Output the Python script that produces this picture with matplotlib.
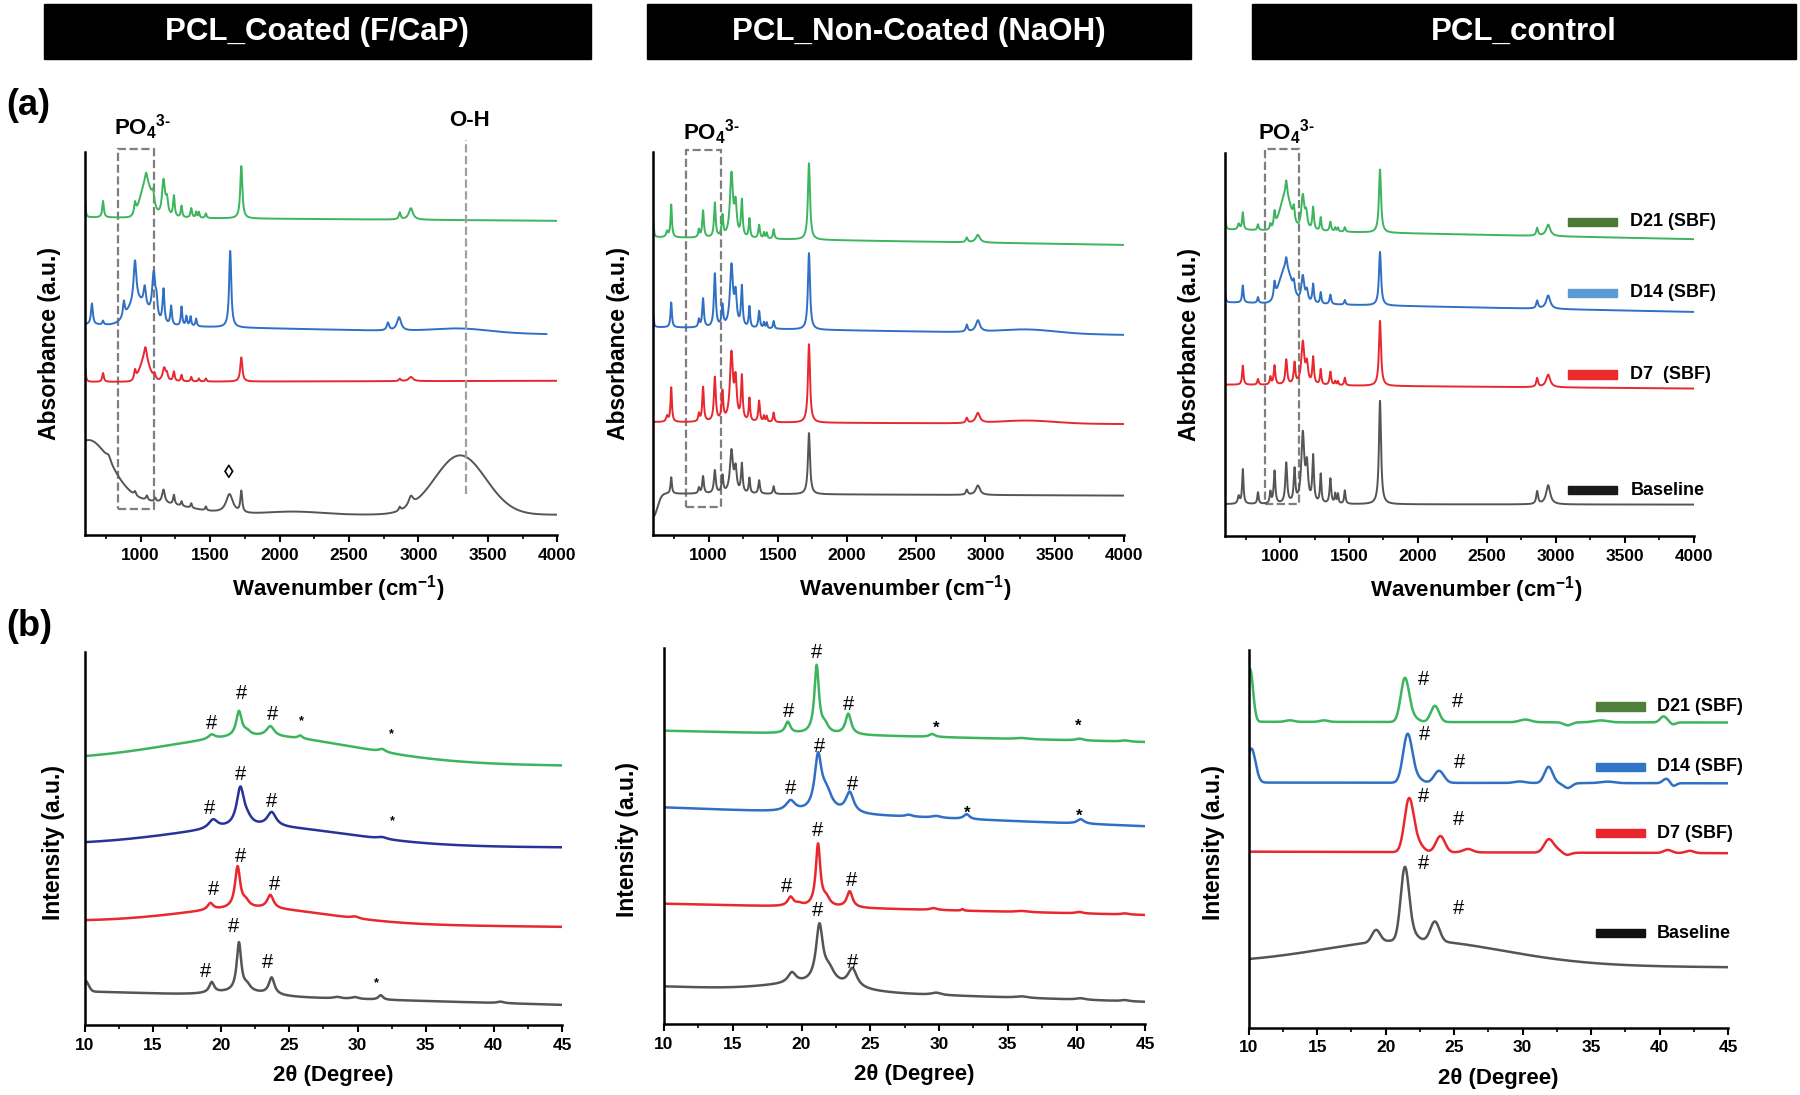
import numpy as np
import matplotlib
matplotlib.use("Agg")
import matplotlib.pyplot as plt
from matplotlib.patches import Rectangle
from matplotlib.ticker import MultipleLocator

plt.rcParams.update({"font.family": ["Liberation Sans", "DejaVu Sans"],
                     "font.weight": "bold",
                     "mathtext.fontset": "custom",
                     "mathtext.rm": "Liberation Sans:bold",
                     "mathtext.bf": "Liberation Sans:bold",
                     "axes.linewidth": 1.8})

# ---------------- data ----------------
# bands: (centre, height, width, shape) ; L = lorentzian (width = HWHM), G = gaussian (width = sigma)
# heights / levels are in % of the panel height (a.u.), level = (left end, right end)
HEADERS = ["PCL_Coated (F/CaP)", "PCL_Non-Coated (NaOH)", "PCL_control"]
SAMPLES = ["Baseline", "D7", "D14", "D21"]
LEGEND_A = ["Baseline", "D7  (SBF)", "D14 (SBF)", "D21 (SBF)"]
LEGEND_B = ["Baseline", "D7 (SBF)", "D14 (SBF)", "D21 (SBF)"]

# (a) FTIR -- PCL_Coated (F/CaP)
COAT_BL_LEVEL = (5.3, 5.3)
COAT_BL = [(620, 19, 170, "G"), (1100, 3, 250, "G"), (770, 1.5, 20, "L"), (960, 1, 8, "L"),
           (1045, 1.2, 8, "L"), (1105, 1, 8, "L"), (1165, 3.5, 12, "L"), (1240, 2.5, 7, "L"),
           (1295, 1.2, 6, "L"), (1365, 1.2, 6, "L"), (1470, 1, 6, "L"), (1640, 5, 30, "L"),
           (1725, 5.5, 8, "L"), (2100, 0.8, 200, "G"), (2865, 1, 8, "L"), (2945, 2.5, 20, "L"),
           (3300, 15.5, 185, "G")]
COAT_D7_LEVEL = (40.0, 40.3)
COAT_D7 = [(600, 4, 6, "L"), (730, 2.3, 7, "L"), (1030, 5.5, 35, "G"), (960, 2.5, 8, "L"),
           (1035, 3.5, 12, "L"), (1100, 1.5, 10, "L"), (1170, 3.5, 14, "L"), (1190, 1.5, 8, "L"),
           (1240, 2.5, 7, "L"), (1295, 1.7, 6, "L"), (1365, 1.2, 6, "L"), (1420, 0.8, 6, "L"),
           (1470, 0.8, 6, "L"), (1725, 6.3, 9, "L"), (2865, 0.6, 8, "L"), (2945, 1.1, 18, "L")]
COAT_D14_LEVEL = (55.0, 52.5)
COAT_D14_END = 3920
COAT_D14 = [(980, 6, 70, "G"), (650, 5.5, 8, "L"), (730, 1, 6, "L"), (880, 4, 8, "L"),
            (960, 11, 12, "L"), (1030, 5, 10, "L"), (1095, 12, 14, "L"), (1115, 4, 8, "L"),
            (1165, 9, 8, "L"), (1220, 5, 7, "L"), (1295, 5, 6, "L"), (1330, 2.5, 6, "L"),
            (1360, 2.5, 6, "L"), (1400, 2, 6, "L"), (1645, 20, 9, "L"), (2780, 2, 10, "L"),
            (2860, 3.5, 18, "L"), (3300, 1, 200, "G")]
COAT_D21_LEVEL = (83.0, 82.1)
COAT_D21 = [(600, 5, 5, "L"), (730, 4.3, 7, "L"), (1040, 9, 40, "G"), (960, 3, 8, "L"),
            (1040, 2.5, 10, "L"), (1090, 3, 10, "L"), (1165, 9.5, 13, "L"), (1190, 4, 10, "L"),
            (1240, 5.5, 7, "L"), (1295, 3, 6, "L"), (1365, 2.5, 7, "L"), (1400, 1.5, 5, "L"),
            (1420, 1.5, 5, "L"), (1470, 1.2, 6, "L"), (1725, 13.7, 9, "L"), (2865, 1.8, 8, "L"),
            (2945, 3, 18, "L")]

# (a) FTIR -- PCL_Non-Coated (NaOH)
NAOH_BL_LEVEL = (10.8, 10.3)
NAOH_BL = [(600, -6, 30, "G"), (730, 4.3, 6, "L"), (930, 1.5, 6, "L"), (960, 4.5, 7, "L"),
           (1045, 6, 8, "L"), (1100, 4.5, 7, "L"), (1165, 11, 13, "L"), (1195, 6, 10, "L"),
           (1240, 7.5, 7, "L"), (1295, 4, 6, "L"), (1365, 3.5, 7, "L"), (1470, 2, 6, "L"),
           (1725, 16, 9, "L"), (2865, 1.3, 8, "L"), (2945, 2.5, 18, "L")]
NAOH_D7_LEVEL = (29.5, 29.0)
NAOH_D7 = [(700, 1.5, 8, "L"), (730, 9, 6, "L"), (930, 2, 6, "L"), (960, 9, 7, "L"),
           (1045, 11.5, 8, "L"), (1100, 7.5, 7, "L"), (1165, 17.5, 13, "L"), (1195, 10, 10, "L"),
           (1240, 11.5, 7, "L"), (1295, 6, 6, "L"), (1365, 5.5, 7, "L"), (1400, 1.5, 5, "L"),
           (1420, 1.5, 5, "L"), (1470, 2.5, 6, "L"), (1725, 20.5, 9, "L"), (2865, 1.3, 8, "L"),
           (2945, 2.6, 18, "L"), (3300, 0.8, 200, "G")]
NAOH_D14_LEVEL = (54.3, 52.3)
NAOH_D14 = [(600, 3, 5, "L"), (730, 6.5, 6, "L"), (930, 2, 6, "L"), (960, 7.5, 7, "L"),
            (1045, 14, 8, "L"), (1100, 5.5, 7, "L"), (1165, 16, 13, "L"), (1195, 8, 10, "L"),
            (1240, 10.5, 7, "L"), (1295, 5.5, 6, "L"), (1365, 4.5, 7, "L"), (1400, 1.5, 5, "L"),
            (1420, 1.5, 5, "L"), (1470, 2, 6, "L"), (1725, 20, 9, "L"), (2865, 1.8, 8, "L"),
            (2945, 3, 18, "L"), (3300, 1, 200, "G")]
NAOH_D21_LEVEL = (77.8, 75.8)
NAOH_D21 = [(600, 4, 5, "L"), (700, 1.5, 8, "L"), (730, 8.5, 6, "L"), (930, 2, 6, "L"),
            (960, 7, 7, "L"), (1045, 9, 7, "L"), (1100, 5.5, 7, "L"), (1165, 16.5, 13, "L"),
            (1195, 8, 10, "L"), (1240, 9.5, 7, "L"), (1295, 5, 6, "L"), (1365, 3.5, 7, "L"),
            (1400, 1.5, 5, "L"), (1420, 1.5, 5, "L"), (1470, 2.5, 6, "L"), (1725, 20, 9, "L"),
            (2865, 1.2, 8, "L"), (2945, 2, 18, "L")]

# (a) FTIR -- PCL_control
CTRL_BL_LEVEL = (8.3, 8.2)
CTRL_BL = [(700, 2, 8, "L"), (730, 9, 6, "L"), (840, 3, 6, "L"), (930, 3, 6, "L"),
           (960, 8.5, 7, "L"), (1045, 10.5, 8, "L"), (1105, 8.5, 7, "L"), (1165, 18, 13, "L"),
           (1195, 9, 10, "L"), (1240, 12, 7, "L"), (1295, 7.5, 6, "L"), (1365, 6.5, 7, "L"),
           (1400, 2.5, 5, "L"), (1420, 2.5, 5, "L"), (1470, 3.5, 6, "L"), (1725, 27, 9, "L"),
           (2865, 3.3, 8, "L"), (2945, 5, 18, "L")]
CTRL_D7_LEVEL = (39.5, 38.5)
CTRL_D7 = [(730, 5, 6, "L"), (840, 1.5, 6, "L"), (930, 2, 6, "L"), (960, 5, 7, "L"),
           (1045, 6.5, 8, "L"), (1105, 5.5, 7, "L"), (1165, 11, 13, "L"), (1195, 5, 10, "L"),
           (1240, 7, 7, "L"), (1295, 4, 6, "L"), (1365, 3.5, 7, "L"), (1400, 1, 5, "L"),
           (1420, 1, 5, "L"), (1470, 2, 6, "L"), (1725, 17, 9, "L"), (2865, 2.3, 8, "L"),
           (2945, 3.3, 18, "L")]
CTRL_D14_LEVEL = (61.0, 58.5)
CTRL_D14 = [(1040, 9, 45, "G"), (600, 3, 5, "L"), (730, 4.5, 6, "L"), (840, 1.5, 6, "L"),
            (960, 4, 7, "L"), (1045, 3, 8, "L"), (1100, 2.5, 7, "L"), (1165, 7, 13, "L"),
            (1195, 3, 10, "L"), (1240, 5, 7, "L"), (1295, 3, 6, "L"), (1365, 2.5, 7, "L"),
            (1470, 1.2, 6, "L"), (1725, 14, 9, "L"), (2865, 2, 8, "L"), (2945, 3.5, 18, "L")]
CTRL_D21_LEVEL = (80.0, 77.5)
CTRL_D21 = [(1040, 9, 40, "G"), (600, 5, 5, "L"), (700, 1.5, 8, "L"), (730, 4.5, 6, "L"),
            (840, 1.5, 6, "L"), (930, 1.5, 6, "L"), (960, 4, 7, "L"), (1045, 4, 8, "L"),
            (1100, 3.5, 7, "L"), (1165, 9, 13, "L"), (1190, 4, 10, "L"), (1240, 6, 7, "L"),
            (1295, 3.5, 6, "L"), (1365, 2.5, 7, "L"), (1400, 1, 5, "L"), (1420, 1, 5, "L"),
            (1470, 1.2, 6, "L"), (1725, 16.5, 9, "L"), (2865, 2, 8, "L"), (2945, 3, 18, "L")]

# (b) XRD -- PCL_Coated (F/CaP)
XCOAT_BL_LEVEL = (9.0, 5.4)
XCOAT_BL = [(10, 3, 0.25, "G"), (21.5, 1, 2, "G"), (19.3, 2.8, 0.22, "L"), (21.3, 13, 0.2, "L"),
            (21.9, 1.5, 0.3, "L"), (23.7, 4.5, 0.25, "L"), (28.5, 0.4, 0.3, "L"),
            (29.8, 0.5, 0.3, "L"), (31.7, 1.2, 0.2, "L"), (40.5, 0.4, 0.3, "L")]
XCOAT_D7_LEVEL = (27.8, 26.3)
XCOAT_D7 = [(22.5, 4, 5.5, "G"), (19.2, 1.8, 0.25, "L"), (21.2, 11, 0.23, "L"),
            (21.8, 1.5, 0.3, "L"), (23.6, 3.6, 0.28, "L"), (29.8, 0.5, 0.3, "L")]
XCOAT_D14_LEVEL = (48.3, 47.6)
XCOAT_D14 = [(23, 5, 6.5, "G"), (19.4, 2.4, 0.4, "L"), (21.4, 10.2, 0.33, "L"),
             (21.9, 1.5, 0.4, "L"), (23.7, 3.8, 0.4, "L"), (31.8, 0.5, 0.4, "L")]
XCOAT_D21_LEVEL = (70.8, 69.5)
XCOAT_D21 = [(23, 7, 7, "G"), (19.3, 1.2, 0.3, "L"), (21.3, 6.7, 0.25, "L"),
             (21.9, 1, 0.3, "L"), (23.6, 2.7, 0.35, "L"), (25.8, 0.8, 0.2, "L"),
             (31.8, 0.8, 0.3, "L")]

# (b) XRD -- PCL_Non-Coated (NaOH)
XNAOH_BL_LEVEL = (10.0, 5.9)
XNAOH_BL = [(20.5, 1.8, 3, "G"), (19.3, 2.8, 0.35, "L"), (21.3, 15, 0.3, "L"),
            (22.0, 3.5, 0.5, "L"), (23.7, 5, 0.4, "L"), (29.8, 0.6, 0.4, "L"),
            (36, 0.4, 0.5, "L"), (40.3, 0.4, 0.4, "L"), (43.5, 0.3, 0.3, "L")]
XNAOH_D7_LEVEL = (32.0, 29.0)
XNAOH_D7 = [(19.2, 2.4, 0.25, "L"), (19.8, 0.6, 0.3, "L"), (21.2, 16.5, 0.2, "L"),
            (21.8, 2, 0.3, "L"), (23.5, 4.3, 0.25, "L"), (29.6, 0.5, 0.3, "L"),
            (31.7, 0.4, 0.1, "L"), (36, 0.3, 0.5, "L"), (40.2, 0.4, 0.3, "L"),
            (43.5, 0.3, 0.3, "L")]
XNAOH_D14_LEVEL = (57.6, 52.6)
XNAOH_D14 = [(19.2, 2.8, 0.4, "L"), (21.2, 14, 0.3, "L"), (21.8, 5, 0.5, "L"),
             (23.5, 5.5, 0.35, "L"), (27.8, 0.5, 0.3, "L"), (29.8, 0.5, 0.4, "L"),
             (32.0, 1.3, 0.25, "L"), (40.3, 1.2, 0.3, "L")]
XNAOH_D21_LEVEL = (78.0, 75.0)
XNAOH_D21 = [(19.0, 3, 0.22, "L"), (21.1, 18, 0.2, "L"), (21.7, 2, 0.3, "L"),
             (23.4, 5.5, 0.25, "L"), (29.5, 0.8, 0.25, "L"), (36, 0.3, 0.5, "L"),
             (40.2, 0.5, 0.3, "L"), (43.5, 0.3, 0.3, "L")]

# (b) XRD -- PCL_control
XCTRL_BL_LEVEL = (17.0, 16.0)
XCTRL_BL = [(22, 6.5, 6.5, "G"), (19.3, 3.2, 0.3, "G"), (21.4, 18.5, 0.3, "G"),
            (21.9, 2, 0.4, "G"), (23.6, 5.2, 0.33, "G")]
XCTRL_D7_LEVEL = (46.6, 46.2)
XCTRL_D7 = [(21.7, 13.5, 0.33, "G"), (22.3, 2.5, 0.4, "G"), (24.0, 4.3, 0.33, "G"),
            (26.0, 0.9, 0.35, "G"), (31.9, 3.3, 0.33, "G"), (32.5, 0.8, 0.4, "G"),
            (33.2, -0.7, 0.3, "G"), (40.6, 0.8, 0.3, "G"), (42.2, 0.6, 0.3, "G")]
XCTRL_D14_LEVEL = (64.9, 64.7)
XCTRL_D14 = [(10.2, 9, 0.3, "G"), (21.6, 12.5, 0.33, "G"), (22.2, 1.5, 0.4, "G"),
             (23.9, 3.2, 0.35, "G"), (29.8, 0.4, 0.4, "G"), (31.9, 4.3, 0.3, "G"),
             (33.3, -1.3, 0.3, "G"), (36.2, 0.4, 0.5, "G"), (40.5, 1.2, 0.25, "G"),
             (41.0, -0.8, 0.2, "G")]
XCTRL_D21_LEVEL = (81.0, 80.8)
XCTRL_D21 = [(10.1, 14, 0.22, "G"), (13.0, 0.4, 0.3, "G"), (15.5, 0.4, 0.3, "G"),
             (21.4, 11, 0.3, "G"), (21.9, 1.5, 0.4, "G"), (23.6, 4.3, 0.3, "G"),
             (30.2, 0.7, 0.4, "G"), (33.3, -0.8, 0.3, "G"), (35.7, 0.5, 0.5, "G"),
             (40.3, 1.6, 0.25, "G"), (41.0, -0.5, 0.2, "G")]

# peak markers on the XRD panels: (2theta, level, symbol)
MARKS_COAT = [(19.28, 80.8, "#"), (21.51, 88.8, "#"), (23.77, 83.2, "#"), (25.86, 81.3, "*"),
              (32.47, 77.9, "*"), (19.13, 58.0, "#"), (21.39, 67.0, "#"), (23.66, 59.8, "#"),
              (32.53, 54.5, "*"), (19.42, 36.2, "#"), (21.39, 45.1, "#"), (23.92, 37.7, "#"),
              (18.84, 14.3, "#"), (20.93, 26.3, "#"), (23.42, 16.7, "#"), (31.37, 11.2, "*")]
MARKS_NAOH = [(19.04, 83.1, "#"), (21.07, 98.7, "#"), (23.41, 84.9, "#"), (29.76, 78.7, "*"),
              (40.10, 79.1, "*"), (19.18, 62.7, "#"), (21.32, 73.8, "#"), (23.72, 63.8, "#"),
              (32.06, 56.1, "*"), (40.19, 55.2, "*"), (18.90, 36.6, "#"), (21.13, 51.6, "#"),
              (23.63, 38.1, "#"), (21.13, 30.3, "#"), (23.72, 16.3, "#")]
MARKS_CTRL = [(22.74, 92.1, "#"), (25.22, 86.3, "#"), (22.85, 77.5, "#"), (25.36, 70.2, "#"),
              (22.79, 61.3, "#"), (25.31, 55.0, "#"), (22.79, 43.5, "#"), (25.31, 31.6, "#")]

LINE_COLORS = ["#555555", "#e8282e", "#2f6fc4", "#3cb55e"]
XRD_COAT_COLORS = ["#555555", "#e8282e", "#28339a", "#3cb55e"]
LEGEND_A_COLORS = ["#1a1a1a", "#ee2a2a", "#5b9bd5", "#4a7a35"]
LEGEND_B_COLORS = ["#111111", "#e8262b", "#2f75c8", "#4f7f3a"]


def spectrum(x, level, bands):
    y = np.interp(x, [x[0], x[-1]], level)
    for c, h, w, shape in bands:
        if shape == "G":
            y = y + h * np.exp(-0.5 * ((x - c) / w) ** 2)
        else:
            y = y + h / (1 + ((x - c) / w) ** 2)
    return y


def style(ax, xlim, major, minor, xlabel, ylabel, ycoords, xcoords):
    ax.set_xlim(*xlim); ax.set_ylim(0, 100)
    for s in ("top", "right"):
        ax.spines[s].set_visible(False)
    ax.set_yticks([])
    ax.xaxis.set_major_locator(MultipleLocator(major))
    ax.xaxis.set_minor_locator(MultipleLocator(minor))
    ax.tick_params(axis="x", which="major", length=5, width=1.5, labelsize=12.5, pad=4)
    ax.tick_params(axis="x", which="minor", length=3, width=1.2)
    for t in ax.get_xticklabels():
        t.set_fontweight("bold")
    ax.set_xlabel(xlabel, fontsize=16, fontweight="bold")
    ax.set_ylabel(ylabel, fontsize=16.5, fontweight="bold")
    ax.yaxis.set_label_coords(*ycoords)
    ax.xaxis.set_label_coords(*xcoords)


def legend(ax, labels, colors, ys, x0, x1, xt, size):
    for lab, col, yy in zip(labels, colors, ys):
        ax.add_patch(Rectangle((x0, yy - 0.011), x1 - x0, 0.022, transform=ax.transAxes,
                               color=col, clip_on=False))
        ax.text(xt, yy, lab, transform=ax.transAxes, fontsize=size, fontweight="bold",
                va="center", ha="left")


fig = plt.figure(figsize=(18, 10.95), dpi=100)

# header boxes
for (x0, x1), title in zip([(0.0242, 0.3283), (0.3593, 0.6619), (0.6954, 0.9978)], HEADERS):
    fig.patches.append(Rectangle((x0, 0.9458), x1 - x0, 0.0507, transform=fig.transFigure,
                                 color="black", zorder=0))
    fig.text((x0 + x1) / 2, 0.971, title, color="white", fontsize=22.5, fontweight="bold",
             ha="center", va="center")
fig.text(0.0155, 0.904, "(a)", fontsize=26, fontweight="bold", ha="center", va="center")
fig.text(0.0165, 0.428, "(b)", fontsize=26, fontweight="bold", ha="center", va="center")

WN = np.linspace(600, 4000, 3401)
TT = np.linspace(10, 45, 3501)
WN_LABEL = "Wavenumber (cm$^{-1}$)"
TT_LABEL = "2θ (Degree)"

# ---------- row (a): FTIR ----------
ax_a = [fig.add_axes([0.0472, 0.5114, 0.2625, 0.3495]),
        fig.add_axes([0.3629, 0.5114, 0.2615, 0.3495]),
        fig.add_axes([0.6805, 0.5105, 0.2604, 0.3498])]
ftir_sets = [
    [(COAT_BL_LEVEL, COAT_BL), (COAT_D7_LEVEL, COAT_D7), (COAT_D14_LEVEL, COAT_D14),
     (COAT_D21_LEVEL, COAT_D21)],
    [(NAOH_BL_LEVEL, NAOH_BL), (NAOH_D7_LEVEL, NAOH_D7), (NAOH_D14_LEVEL, NAOH_D14),
     (NAOH_D21_LEVEL, NAOH_D21)],
    [(CTRL_BL_LEVEL, CTRL_BL), (CTRL_D7_LEVEL, CTRL_D7), (CTRL_D14_LEVEL, CTRL_D14),
     (CTRL_D21_LEVEL, CTRL_D21)],
]
po4_boxes = [(840, 1100, 6.8, 100.8), (840, 1090, 7.3, 100.7), (890, 1140, 8.3, 101.0)]
po4_text = [(1014, 106.5), (1019, 105.3), (1050, 105.3)]
for i, ax in enumerate(ax_a):
    for j, (level, bands) in enumerate(ftir_sets[i]):
        x = WN
        if i == 0 and SAMPLES[j] == "D14":
            x = WN[WN <= COAT_D14_END]
        ax.plot(x, spectrum(x, level, bands), color=LINE_COLORS[j], lw=1.4)
    style(ax, (600, 4000), 500, 250, WN_LABEL, "Absorbance (a.u.)", (-0.05, 0.5), (0.535, -0.10))
    ax.set_xticks([1000, 1500, 2000, 2500, 3000, 3500, 4000])
    ax.xaxis.set_minor_locator(MultipleLocator(250))
    x0, x1, y0, y1 = po4_boxes[i]
    ax.add_patch(Rectangle((x0, y0), x1 - x0, y1 - y0, fill=False, ls="--", lw=1.6,
                           ec="#7f7f7f", clip_on=False))
    ax.text(*po4_text[i], "PO$_4$$^{3\u2010}$", fontsize=16, fontweight="bold",
            ha="center", va="center")

ax_a[0].plot([3340, 3340], [10.7, 103.2], ls="--", lw=1.6, color="#a0a0a0", clip_on=False)
ax_a[0].text(3370, 108.2, "O-H", fontsize=16, fontweight="bold", ha="center", va="center")
ax_a[0].text(1636, 16.2, "\u25ca", fontsize=14, fontweight="bold", ha="center", va="center")
legend(ax_a[2], LEGEND_A, LEGEND_A_COLORS, [0.12, 0.422, 0.635, 0.82], 0.733, 0.837, 0.865, 13)

# ---------- row (b): XRD ----------
ax_b = [fig.add_axes([0.0472, 0.0639, 0.2650, 0.3409]),
        fig.add_axes([0.3689, 0.0648, 0.2674, 0.3434]),
        fig.add_axes([0.6937, 0.0615, 0.2663, 0.3449])]
xrd_sets = [
    [(XCOAT_BL_LEVEL, XCOAT_BL), (XCOAT_D7_LEVEL, XCOAT_D7), (XCOAT_D14_LEVEL, XCOAT_D14),
     (XCOAT_D21_LEVEL, XCOAT_D21)],
    [(XNAOH_BL_LEVEL, XNAOH_BL), (XNAOH_D7_LEVEL, XNAOH_D7), (XNAOH_D14_LEVEL, XNAOH_D14),
     (XNAOH_D21_LEVEL, XNAOH_D21)],
    [(XCTRL_BL_LEVEL, XCTRL_BL), (XCTRL_D7_LEVEL, XCTRL_D7), (XCTRL_D14_LEVEL, XCTRL_D14),
     (XCTRL_D21_LEVEL, XCTRL_D21)],
]
marks = [MARKS_COAT, MARKS_NAOH, MARKS_CTRL]
ylab_x = [-0.042, -0.052, -0.049]
star_size = [9, 12, 12]
for i, ax in enumerate(ax_b):
    cols = XRD_COAT_COLORS if i == 0 else LINE_COLORS
    for j, (level, bands) in enumerate(xrd_sets[i]):
        ax.plot(TT, spectrum(TT, level, bands), color=cols[j], lw=1.8)
    style(ax, (10, 45), 5, 2.5, TT_LABEL, "Intensity (a.u.)", (ylab_x[i], 0.49), (0.52, -0.107))
    for tx, ty, sym in marks[i]:
        if sym == "#":
            ax.text(tx, ty, sym, fontsize=14.5, fontweight="normal", ha="center", va="center")
        else:
            ax.text(tx, ty, sym, fontsize=star_size[i], fontweight="bold", ha="center", va="center")

legend(ax_b[2], LEGEND_B, LEGEND_B_COLORS, [0.25, 0.515, 0.691, 0.85], 0.725, 0.827, 0.852, 13)

fig.savefig("out.png", dpi=100)
